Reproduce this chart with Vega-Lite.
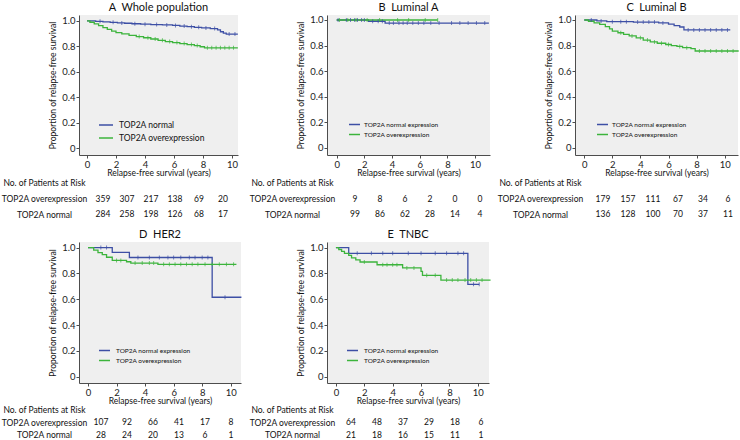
{
"$schema": "https://vega.github.io/schema/vega-lite/v6.json",
"padding": {"left": 1, "top": 1, "right": 0, "bottom": 0},
"background": "white",
"config": {
  "font": "Lato",
  "view": {"stroke": null},
  "axis": {"grid": false, "domainColor": "#4d4d4d", "tickColor": "#4d4d4d", "tickSize": 3, "labelFontSize": 9.5, "labelColor": "#222", "labelPadding": 1, "labelFlush": false, "labelOverlap": false, "titleFontSize": 8.5, "titleFontWeight": "normal", "titleColor": "#111", "labelFont": "Lato", "titleFont": "Lato"},
  "axisY": {"titleFontSize": 8.5, "titlePadding": 4},
  "axisX": {"titlePadding": 0},
  "title": {"fontSize": 11, "fontWeight": "normal", "color": "#111", "offset": 2, "frame": "group", "font": "Lato"},
  "legend": {"title": null, "orient": "none", "symbolType": "stroke", "symbolStrokeWidth": 1.5, "padding": 0, "rowPadding": 0, "labelColor": "#111", "labelFont": "Lato"},
  "text": {"color": "#111", "font": "Lato"},
  "tick": {"orient": "vertical", "size": 4, "thickness": 1}
},
"datasets": {
"km": [
{"p":"A","g":"N","t":0,"s":1},{"p":"A","g":"N","t":0.6,"s":0.997},{"p":"A","g":"N","t":1.1,"s":0.993},{"p":"A","g":"N","t":1.6,"s":0.989},{"p":"A","g":"N","t":2.1,"s":0.985},{"p":"A","g":"N","t":2.6,"s":0.982},{"p":"A","g":"N","t":3.1,"s":0.978},{"p":"A","g":"N","t":3.7,"s":0.975},{"p":"A","g":"N","t":4.4,"s":0.972},{"p":"A","g":"N","t":5.2,"s":0.969},{"p":"A","g":"N","t":5.9,"s":0.965},{"p":"A","g":"N","t":6.4,"s":0.96},{"p":"A","g":"N","t":6.9,"s":0.955},{"p":"A","g":"N","t":7.4,"s":0.95},{"p":"A","g":"N","t":7.9,"s":0.945},{"p":"A","g":"N","t":8.5,"s":0.94},{"p":"A","g":"N","t":9.0,"s":0.93},{"p":"A","g":"N","t":9.2,"s":0.915},{"p":"A","g":"N","t":9.4,"s":0.905},{"p":"A","g":"N","t":9.6,"s":0.897},{"p":"A","g":"N","t":10.4,"s":0.897},
{"p":"A","g":"O","t":0,"s":1},{"p":"A","g":"O","t":0.2,"s":0.99},{"p":"A","g":"O","t":0.5,"s":0.977},{"p":"A","g":"O","t":0.8,"s":0.963},{"p":"A","g":"O","t":1.1,"s":0.948},{"p":"A","g":"O","t":1.4,"s":0.934},{"p":"A","g":"O","t":1.7,"s":0.92},{"p":"A","g":"O","t":2.0,"s":0.908},{"p":"A","g":"O","t":2.4,"s":0.898},{"p":"A","g":"O","t":2.9,"s":0.887},{"p":"A","g":"O","t":3.4,"s":0.877},{"p":"A","g":"O","t":3.9,"s":0.868},{"p":"A","g":"O","t":4.4,"s":0.858},{"p":"A","g":"O","t":4.9,"s":0.848},{"p":"A","g":"O","t":5.4,"s":0.838},{"p":"A","g":"O","t":5.9,"s":0.83},{"p":"A","g":"O","t":6.4,"s":0.822},{"p":"A","g":"O","t":6.9,"s":0.814},{"p":"A","g":"O","t":7.4,"s":0.806},{"p":"A","g":"O","t":7.8,"s":0.797},{"p":"A","g":"O","t":8.1,"s":0.789},{"p":"A","g":"O","t":10.4,"s":0.789},
{"p":"B","g":"N","t":0,"s":1},{"p":"B","g":"N","t":2.3,"s":0.99},{"p":"B","g":"N","t":3.5,"s":0.976},{"p":"B","g":"N","t":11,"s":0.976},
{"p":"B","g":"O","t":0,"s":1},{"p":"B","g":"O","t":7.3,"s":1},
{"p":"C","g":"N","t":0,"s":1},{"p":"C","g":"N","t":0.9,"s":0.993},{"p":"C","g":"N","t":1.6,"s":0.987},{"p":"C","g":"N","t":3.5,"s":0.984},{"p":"C","g":"N","t":5.3,"s":0.977},{"p":"C","g":"N","t":6.0,"s":0.968},{"p":"C","g":"N","t":6.4,"s":0.956},{"p":"C","g":"N","t":6.8,"s":0.945},{"p":"C","g":"N","t":7.1,"s":0.922},{"p":"C","g":"N","t":10.4,"s":0.922},
{"p":"C","g":"O","t":0,"s":1},{"p":"C","g":"O","t":0.3,"s":0.99},{"p":"C","g":"O","t":0.7,"s":0.978},{"p":"C","g":"O","t":1.1,"s":0.965},{"p":"C","g":"O","t":1.5,"s":0.948},{"p":"C","g":"O","t":1.8,"s":0.93},{"p":"C","g":"O","t":2.0,"s":0.912},{"p":"C","g":"O","t":2.4,"s":0.9},{"p":"C","g":"O","t":2.8,"s":0.888},{"p":"C","g":"O","t":3.2,"s":0.875},{"p":"C","g":"O","t":3.7,"s":0.86},{"p":"C","g":"O","t":4.2,"s":0.843},{"p":"C","g":"O","t":4.7,"s":0.828},{"p":"C","g":"O","t":5.2,"s":0.818},{"p":"C","g":"O","t":5.8,"s":0.808},{"p":"C","g":"O","t":6.2,"s":0.8},{"p":"C","g":"O","t":6.6,"s":0.793},{"p":"C","g":"O","t":7.0,"s":0.783},{"p":"C","g":"O","t":7.6,"s":0.775},{"p":"C","g":"O","t":7.9,"s":0.757},{"p":"C","g":"O","t":11,"s":0.757},
{"p":"D","g":"N","t":0,"s":1},{"p":"D","g":"N","t":1.7,"s":0.962},{"p":"D","g":"N","t":2.9,"s":0.923},{"p":"D","g":"N","t":8.7,"s":0.615},{"p":"D","g":"N","t":10.75,"s":0.615},
{"p":"D","g":"O","t":0,"s":1},{"p":"D","g":"O","t":0.4,"s":0.98},{"p":"D","g":"O","t":0.7,"s":0.96},{"p":"D","g":"O","t":1.0,"s":0.945},{"p":"D","g":"O","t":1.3,"s":0.925},{"p":"D","g":"O","t":1.7,"s":0.9},{"p":"D","g":"O","t":2.7,"s":0.89},{"p":"D","g":"O","t":3.0,"s":0.88},{"p":"D","g":"O","t":4.9,"s":0.87},{"p":"D","g":"O","t":10.4,"s":0.87},
{"p":"E","g":"N","t":0,"s":1},{"p":"E","g":"N","t":0.9,"s":0.955},{"p":"E","g":"N","t":9.3,"s":0.715},{"p":"E","g":"N","t":10.1,"s":0.715},
{"p":"E","g":"O","t":0,"s":1},{"p":"E","g":"O","t":0.2,"s":0.985},{"p":"E","g":"O","t":0.4,"s":0.97},{"p":"E","g":"O","t":0.6,"s":0.955},{"p":"E","g":"O","t":0.9,"s":0.94},{"p":"E","g":"O","t":1.1,"s":0.92},{"p":"E","g":"O","t":1.4,"s":0.905},{"p":"E","g":"O","t":1.7,"s":0.888},{"p":"E","g":"O","t":2.9,"s":0.867},{"p":"E","g":"O","t":4.7,"s":0.842},{"p":"E","g":"O","t":6.0,"s":0.815},{"p":"E","g":"O","t":6.1,"s":0.785},{"p":"E","g":"O","t":7.4,"s":0.748},{"p":"E","g":"O","t":10.9,"s":0.748}
],
"cens": [
{"p":"A","g":"N","t":0.9,"s":0.997},{"p":"A","g":"N","t":1.8,"s":0.989},{"p":"A","g":"N","t":2.4,"s":0.985},{"p":"A","g":"N","t":3.3,"s":0.978},{"p":"A","g":"N","t":4.0,"s":0.975},{"p":"A","g":"N","t":4.8,"s":0.972},{"p":"A","g":"N","t":5.5,"s":0.969},{"p":"A","g":"N","t":6.1,"s":0.965},{"p":"A","g":"N","t":6.7,"s":0.96},{"p":"A","g":"N","t":7.2,"s":0.955},{"p":"A","g":"N","t":7.7,"s":0.95},{"p":"A","g":"N","t":8.2,"s":0.945},{"p":"A","g":"N","t":8.8,"s":0.94},{"p":"A","g":"N","t":9.8,"s":0.897},{"p":"A","g":"N","t":10.2,"s":0.897},
{"p":"A","g":"O","t":3.6,"s":0.877},{"p":"A","g":"O","t":4.2,"s":0.868},{"p":"A","g":"O","t":4.7,"s":0.858},{"p":"A","g":"O","t":5.2,"s":0.848},{"p":"A","g":"O","t":5.7,"s":0.838},{"p":"A","g":"O","t":6.2,"s":0.83},{"p":"A","g":"O","t":6.7,"s":0.822},{"p":"A","g":"O","t":7.2,"s":0.814},{"p":"A","g":"O","t":7.6,"s":0.806},{"p":"A","g":"O","t":8.3,"s":0.789},{"p":"A","g":"O","t":8.6,"s":0.789},{"p":"A","g":"O","t":8.9,"s":0.789},{"p":"A","g":"O","t":9.2,"s":0.789},{"p":"A","g":"O","t":9.5,"s":0.789},{"p":"A","g":"O","t":9.8,"s":0.789},{"p":"A","g":"O","t":10.1,"s":0.789},
{"p":"B","g":"N","t":0.1,"s":1},{"p":"B","g":"N","t":0.7,"s":1},{"p":"B","g":"N","t":1.0,"s":1},{"p":"B","g":"N","t":1.3,"s":1},{"p":"B","g":"N","t":1.5,"s":1},{"p":"B","g":"N","t":1.8,"s":1},{"p":"B","g":"N","t":2.0,"s":1},{"p":"B","g":"N","t":2.6,"s":0.99},{"p":"B","g":"N","t":3.0,"s":0.99},{"p":"B","g":"N","t":3.3,"s":0.99},{"p":"B","g":"N","t":3.8,"s":0.976},{"p":"B","g":"N","t":4.1,"s":0.976},{"p":"B","g":"N","t":4.5,"s":0.976},{"p":"B","g":"N","t":4.8,"s":0.976},{"p":"B","g":"N","t":5.1,"s":0.976},{"p":"B","g":"N","t":5.5,"s":0.976},{"p":"B","g":"N","t":5.9,"s":0.976},{"p":"B","g":"N","t":6.3,"s":0.976},{"p":"B","g":"N","t":6.8,"s":0.976},{"p":"B","g":"N","t":7.4,"s":0.976},{"p":"B","g":"N","t":8.3,"s":0.976},{"p":"B","g":"N","t":8.9,"s":0.976},{"p":"B","g":"N","t":9.5,"s":0.976},{"p":"B","g":"N","t":10.1,"s":0.976},{"p":"B","g":"N","t":10.7,"s":0.976},
{"p":"B","g":"O","t":0.2,"s":1},{"p":"B","g":"O","t":0.8,"s":1},{"p":"B","g":"O","t":1.4,"s":1},{"p":"B","g":"O","t":2.2,"s":1},{"p":"B","g":"O","t":3.1,"s":1},{"p":"B","g":"O","t":4.4,"s":1},{"p":"B","g":"O","t":5.2,"s":1},{"p":"B","g":"O","t":6.4,"s":1},{"p":"B","g":"O","t":7.3,"s":1},
{"p":"C","g":"N","t":0.5,"s":1},{"p":"C","g":"N","t":1.2,"s":0.993},{"p":"C","g":"N","t":2.0,"s":0.987},{"p":"C","g":"N","t":2.6,"s":0.987},{"p":"C","g":"N","t":3.0,"s":0.987},{"p":"C","g":"N","t":3.8,"s":0.984},{"p":"C","g":"N","t":4.2,"s":0.984},{"p":"C","g":"N","t":4.6,"s":0.984},{"p":"C","g":"N","t":5.0,"s":0.984},{"p":"C","g":"N","t":5.6,"s":0.977},{"p":"C","g":"N","t":7.4,"s":0.922},{"p":"C","g":"N","t":7.8,"s":0.922},{"p":"C","g":"N","t":8.2,"s":0.922},{"p":"C","g":"N","t":8.6,"s":0.922},{"p":"C","g":"N","t":9.0,"s":0.922},{"p":"C","g":"N","t":9.4,"s":0.922},{"p":"C","g":"N","t":9.8,"s":0.922},{"p":"C","g":"N","t":10.2,"s":0.922},
{"p":"C","g":"O","t":2.6,"s":0.9},{"p":"C","g":"O","t":3.4,"s":0.875},{"p":"C","g":"O","t":4.0,"s":0.86},{"p":"C","g":"O","t":4.5,"s":0.843},{"p":"C","g":"O","t":5.0,"s":0.828},{"p":"C","g":"O","t":5.5,"s":0.818},{"p":"C","g":"O","t":6.0,"s":0.808},{"p":"C","g":"O","t":6.8,"s":0.793},{"p":"C","g":"O","t":7.3,"s":0.783},{"p":"C","g":"O","t":8.2,"s":0.757},{"p":"C","g":"O","t":8.6,"s":0.757},{"p":"C","g":"O","t":9.0,"s":0.757},{"p":"C","g":"O","t":9.4,"s":0.757},{"p":"C","g":"O","t":9.8,"s":0.757},{"p":"C","g":"O","t":10.2,"s":0.757},{"p":"C","g":"O","t":10.6,"s":0.757},
{"p":"D","g":"N","t":0.9,"s":1},{"p":"D","g":"N","t":1.3,"s":1},{"p":"D","g":"N","t":3.5,"s":0.923},{"p":"D","g":"N","t":4.3,"s":0.923},{"p":"D","g":"N","t":5.0,"s":0.923},{"p":"D","g":"N","t":5.6,"s":0.923},{"p":"D","g":"N","t":6.0,"s":0.923},{"p":"D","g":"N","t":6.5,"s":0.923},{"p":"D","g":"N","t":7.1,"s":0.923},{"p":"D","g":"N","t":7.5,"s":0.923},{"p":"D","g":"N","t":8.0,"s":0.923},{"p":"D","g":"N","t":8.4,"s":0.923},{"p":"D","g":"N","t":9.6,"s":0.615},
{"p":"D","g":"O","t":2.0,"s":0.9},{"p":"D","g":"O","t":2.3,"s":0.9},{"p":"D","g":"O","t":3.3,"s":0.88},{"p":"D","g":"O","t":3.8,"s":0.88},{"p":"D","g":"O","t":4.3,"s":0.88},{"p":"D","g":"O","t":4.6,"s":0.88},{"p":"D","g":"O","t":5.3,"s":0.87},{"p":"D","g":"O","t":5.7,"s":0.87},{"p":"D","g":"O","t":6.1,"s":0.87},{"p":"D","g":"O","t":6.5,"s":0.87},{"p":"D","g":"O","t":6.9,"s":0.87},{"p":"D","g":"O","t":7.3,"s":0.87},{"p":"D","g":"O","t":7.7,"s":0.87},{"p":"D","g":"O","t":8.2,"s":0.87},{"p":"D","g":"O","t":8.7,"s":0.87},{"p":"D","g":"O","t":9.2,"s":0.87},{"p":"D","g":"O","t":9.7,"s":0.87},{"p":"D","g":"O","t":10.2,"s":0.87},
{"p":"E","g":"N","t":1.5,"s":0.955},{"p":"E","g":"N","t":2.5,"s":0.955},{"p":"E","g":"N","t":3.3,"s":0.955},{"p":"E","g":"N","t":4.0,"s":0.955},{"p":"E","g":"N","t":5.1,"s":0.955},{"p":"E","g":"N","t":6.0,"s":0.955},{"p":"E","g":"N","t":7.0,"s":0.955},{"p":"E","g":"N","t":7.8,"s":0.955},{"p":"E","g":"N","t":8.6,"s":0.955},{"p":"E","g":"N","t":9.0,"s":0.955},{"p":"E","g":"N","t":9.7,"s":0.715},{"p":"E","g":"N","t":10.1,"s":0.715},
{"p":"E","g":"O","t":2.0,"s":0.888},{"p":"E","g":"O","t":3.3,"s":0.867},{"p":"E","g":"O","t":3.6,"s":0.867},{"p":"E","g":"O","t":4.0,"s":0.867},{"p":"E","g":"O","t":4.3,"s":0.867},{"p":"E","g":"O","t":5.0,"s":0.842},{"p":"E","g":"O","t":5.5,"s":0.842},{"p":"E","g":"O","t":6.4,"s":0.785},{"p":"E","g":"O","t":7.0,"s":0.785},{"p":"E","g":"O","t":7.8,"s":0.748},{"p":"E","g":"O","t":8.2,"s":0.748},{"p":"E","g":"O","t":8.6,"s":0.748},{"p":"E","g":"O","t":9.1,"s":0.748},{"p":"E","g":"O","t":9.5,"s":0.748},{"p":"E","g":"O","t":9.9,"s":0.748},{"p":"E","g":"O","t":10.3,"s":0.748}
],
"risk": [
{"p":"A","r":"TOP2A overexpression","t":0,"n":359},{"p":"A","r":"TOP2A overexpression","t":2,"n":307},{"p":"A","r":"TOP2A overexpression","t":4,"n":217},{"p":"A","r":"TOP2A overexpression","t":6,"n":138},{"p":"A","r":"TOP2A overexpression","t":8,"n":69},{"p":"A","r":"TOP2A overexpression","t":10,"n":20},
{"p":"A","r":"TOP2A normal","t":0,"n":284},{"p":"A","r":"TOP2A normal","t":2,"n":258},{"p":"A","r":"TOP2A normal","t":4,"n":198},{"p":"A","r":"TOP2A normal","t":6,"n":126},{"p":"A","r":"TOP2A normal","t":8,"n":68},{"p":"A","r":"TOP2A normal","t":10,"n":17},
{"p":"B","r":"TOP2A overexpression","t":0,"n":9},{"p":"B","r":"TOP2A overexpression","t":2,"n":8},{"p":"B","r":"TOP2A overexpression","t":4,"n":6},{"p":"B","r":"TOP2A overexpression","t":6,"n":2},{"p":"B","r":"TOP2A overexpression","t":8,"n":0},{"p":"B","r":"TOP2A overexpression","t":10,"n":0},
{"p":"B","r":"TOP2A normal","t":0,"n":99},{"p":"B","r":"TOP2A normal","t":2,"n":86},{"p":"B","r":"TOP2A normal","t":4,"n":62},{"p":"B","r":"TOP2A normal","t":6,"n":28},{"p":"B","r":"TOP2A normal","t":8,"n":14},{"p":"B","r":"TOP2A normal","t":10,"n":4},
{"p":"C","r":"TOP2A overexpression","t":0,"n":179},{"p":"C","r":"TOP2A overexpression","t":2,"n":157},{"p":"C","r":"TOP2A overexpression","t":4,"n":111},{"p":"C","r":"TOP2A overexpression","t":6,"n":67},{"p":"C","r":"TOP2A overexpression","t":8,"n":34},{"p":"C","r":"TOP2A overexpression","t":10,"n":6},
{"p":"C","r":"TOP2A normal","t":0,"n":136},{"p":"C","r":"TOP2A normal","t":2,"n":128},{"p":"C","r":"TOP2A normal","t":4,"n":100},{"p":"C","r":"TOP2A normal","t":6,"n":70},{"p":"C","r":"TOP2A normal","t":8,"n":37},{"p":"C","r":"TOP2A normal","t":10,"n":11},
{"p":"D","r":"TOP2A overexpression","t":0,"n":107},{"p":"D","r":"TOP2A overexpression","t":2,"n":92},{"p":"D","r":"TOP2A overexpression","t":4,"n":66},{"p":"D","r":"TOP2A overexpression","t":6,"n":41},{"p":"D","r":"TOP2A overexpression","t":8,"n":17},{"p":"D","r":"TOP2A overexpression","t":10,"n":8},
{"p":"D","r":"TOP2A normal","t":0,"n":28},{"p":"D","r":"TOP2A normal","t":2,"n":24},{"p":"D","r":"TOP2A normal","t":4,"n":20},{"p":"D","r":"TOP2A normal","t":6,"n":13},{"p":"D","r":"TOP2A normal","t":8,"n":6},{"p":"D","r":"TOP2A normal","t":10,"n":1},
{"p":"E","r":"TOP2A overexpression","t":0,"n":64},{"p":"E","r":"TOP2A overexpression","t":2,"n":48},{"p":"E","r":"TOP2A overexpression","t":4,"n":37},{"p":"E","r":"TOP2A overexpression","t":6,"n":29},{"p":"E","r":"TOP2A overexpression","t":8,"n":18},{"p":"E","r":"TOP2A overexpression","t":10,"n":6},
{"p":"E","r":"TOP2A normal","t":0,"n":21},{"p":"E","r":"TOP2A normal","t":2,"n":18},{"p":"E","r":"TOP2A normal","t":4,"n":16},{"p":"E","r":"TOP2A normal","t":6,"n":15},{"p":"E","r":"TOP2A normal","t":8,"n":11},{"p":"E","r":"TOP2A normal","t":10,"n":1}
]
},
"columns": 3,
"bounds": "flush",
"spacing": {"row": 20, "column": 80},
"resolve": {"scale": {"color": "independent"}, "legend": {"color": "independent"}},
"concat": [
{
 "width": 159, "height": 140,
 "title": {"text": "A\u00a0\u00a0Whole population"},
 "view": {"fill": "#efefef", "stroke": null},
 "encoding": {
  "x": {"field": "t", "type": "quantitative", "scale": {"domain": [-0.55, 10.41], "nice": false, "zero": false}, "axis": {"values": [0,2,4,6,8,10], "format": "d", "labelOverlap": false, "title": "Relapse-free survival (years)"}},
  "y": {"field": "s", "type": "quantitative", "scale": {"domain": [-0.055, 1.047], "nice": false, "zero": false}, "axis": {"values": [0,0.2,0.4,0.6,0.8,1], "labelOverlap": false, "labelExpr": "datum.value == 0 ? '0' : format(datum.value, '.1f')", "title": "Proportion of relapse-free survival"}}
 },
 "layer": [
  {"data": {"name": "km"}, "transform": [{"filter": "datum.p == 'A'"}],
   "mark": {"type": "line", "interpolate": "step-after", "strokeWidth": 1.3},
   "encoding": {"color": {"field": "g", "type": "nominal", "scale": {"domain": ["N","O"], "range": ["#3d4fa5","#3cb43c"]}, "legend": {"legendX": 19, "legendY": 102, "symbolSize": 196, "labelFontSize": 8.5, "labelOffset": 5, "labelExpr": "datum.value == 'N' ? 'TOP2A normal' : 'TOP2A overexpression'"}}}},
  {"data": {"name": "cens"}, "transform": [{"filter": "datum.p == 'A'"}],
   "mark": {"type": "tick"},
   "encoding": {"color": {"field": "g", "type": "nominal", "legend": null}}},
  {"data": {"values": [{"txt": "P value < 0.001"}]},
   "mark": {"type": "text", "fontSize": 8.5},
   "encoding": {"x": {"datum": 4.7}, "y": {"datum": 0.335}, "text": {"field": "txt"}}}
 ]
},
{
 "width": 163, "height": 140,
 "title": {"text": "B\u00a0\u00a0Luminal A"},
 "view": {"fill": "#efefef", "stroke": null},
 "encoding": {
  "x": {"field": "t", "type": "quantitative", "scale": {"domain": [-0.70, 11.08], "nice": false, "zero": false}, "axis": {"values": [0,2,4,6,8,10], "format": "d", "labelOverlap": false, "title": "Relapse-free survival (years)"}},
  "y": {"field": "s", "type": "quantitative", "scale": {"domain": [-0.057, 1.039], "nice": false, "zero": false}, "axis": {"values": [0,0.2,0.4,0.6,0.8,1], "labelOverlap": false, "labelExpr": "datum.value == 0 ? '0' : format(datum.value, '.1f')", "title": "Proportion of relapse-free survival"}}
 },
 "layer": [
  {"data": {"name": "km"}, "transform": [{"filter": "datum.p == 'B'"}],
   "mark": {"type": "line", "interpolate": "step-after", "strokeWidth": 1.3},
   "encoding": {"color": {"field": "g", "type": "nominal", "scale": {"domain": ["N","O"], "range": ["#3d4fa5","#3cb43c"]}, "legend": {"legendX": 21, "legendY": 103, "symbolSize": 121, "labelFontSize": 6.5, "labelOffset": 3, "labelExpr": "datum.value == 'N' ? 'TOP2A normal expression' : 'TOP2A overexpression'"}}}},
  {"data": {"name": "cens"}, "transform": [{"filter": "datum.p == 'B'"}],
   "mark": {"type": "tick"},
   "encoding": {"color": {"field": "g", "type": "nominal", "legend": null}}},
  {"data": {"values": [{"txt": "P value = 0.70"}]},
   "mark": {"type": "text", "fontSize": 8.5},
   "encoding": {"x": {"datum": 4.87}, "y": {"datum": 0.332}, "text": {"field": "txt"}}}
 ]
},
{
 "width": 163, "height": 140,
 "title": {"text": "C\u00a0\u00a0Luminal B"},
 "view": {"fill": "#efefef", "stroke": null},
 "encoding": {
  "x": {"field": "t", "type": "quantitative", "scale": {"domain": [-0.66, 10.95], "nice": false, "zero": false}, "axis": {"values": [0,2,4,6,8,10], "format": "d", "labelOverlap": false, "title": "Relapse-free survival (years)"}},
  "y": {"field": "s", "type": "quantitative", "scale": {"domain": [-0.057, 1.039], "nice": false, "zero": false}, "axis": {"values": [0,0.2,0.4,0.6,0.8,1], "labelOverlap": false, "labelExpr": "datum.value == 0 ? '0' : format(datum.value, '.1f')", "title": "Proportion of relapse-free survival"}}
 },
 "layer": [
  {"data": {"name": "km"}, "transform": [{"filter": "datum.p == 'C'"}],
   "mark": {"type": "line", "interpolate": "step-after", "strokeWidth": 1.3},
   "encoding": {"color": {"field": "g", "type": "nominal", "scale": {"domain": ["N","O"], "range": ["#3d4fa5","#3cb43c"]}, "legend": {"legendX": 21, "legendY": 103, "symbolSize": 121, "labelFontSize": 6.5, "labelOffset": 3, "labelExpr": "datum.value == 'N' ? 'TOP2A normal expression' : 'TOP2A overexpression'"}}}},
  {"data": {"name": "cens"}, "transform": [{"filter": "datum.p == 'C'"}],
   "mark": {"type": "tick"},
   "encoding": {"color": {"field": "g", "type": "nominal", "legend": null}}},
  {"data": {"values": [{"txt": "P value < 0.001"}]},
   "mark": {"type": "text", "fontSize": 8.5},
   "encoding": {"x": {"datum": 4.68}, "y": {"datum": 0.335}, "text": {"field": "txt"}}}
 ]
},
{
 "width": 168, "height": 47,
 "data": {"name": "risk"}, "transform": [{"filter": "datum.p == 'A'"}],
 "mark": {"type": "text", "fontSize": 8.5},
 "encoding": {
  "x": {"field": "t", "type": "quantitative", "scale": {"domain": [-2, 12], "nice": false, "zero": false}, "axis": null},
  "y": {"field": "r", "type": "nominal", "scale": {"domain": ["No. of Patients at Risk", "TOP2A overexpression", "TOP2A normal"], "paddingInner": 0, "paddingOuter": 0}, "axis": {"title": null, "domain": false, "ticks": false, "tickSize": 0, "labelAlign": "center", "labelPadding": 35, "labelFontSize": 8.5, "labelColor": "#111"}},
  "text": {"field": "n", "type": "quantitative"}
 }
},
{
 "width": 168, "height": 47,
 "data": {"name": "risk"}, "transform": [{"filter": "datum.p == 'B'"}],
 "mark": {"type": "text", "fontSize": 8.5},
 "encoding": {
  "x": {"field": "t", "type": "quantitative", "scale": {"domain": [-2.24, 11.2], "nice": false, "zero": false}, "axis": null},
  "y": {"field": "r", "type": "nominal", "scale": {"domain": ["No. of Patients at Risk", "TOP2A overexpression", "TOP2A normal"], "paddingInner": 0, "paddingOuter": 0}, "axis": {"title": null, "domain": false, "ticks": false, "tickSize": 0, "labelAlign": "center", "labelPadding": 35, "labelFontSize": 8.5, "labelColor": "#111"}},
  "text": {"field": "n", "type": "quantitative"}
 }
},
{
 "width": 168, "height": 47,
 "data": {"name": "risk"}, "transform": [{"filter": "datum.p == 'C'"}],
 "mark": {"type": "text", "fontSize": 8.5},
 "encoding": {
  "x": {"field": "t", "type": "quantitative", "scale": {"domain": [-2.24, 11.2], "nice": false, "zero": false}, "axis": null},
  "y": {"field": "r", "type": "nominal", "scale": {"domain": ["No. of Patients at Risk", "TOP2A overexpression", "TOP2A normal"], "paddingInner": 0, "paddingOuter": 0}, "axis": {"title": null, "domain": false, "ticks": false, "tickSize": 0, "labelAlign": "center", "labelPadding": 35, "labelFontSize": 8.5, "labelColor": "#111"}},
  "text": {"field": "n", "type": "quantitative"}
 }
},
{
 "width": 162, "height": 141,
 "title": {"text": "D\u00a0\u00a0HER2"},
 "view": {"fill": "#efefef", "stroke": null},
 "encoding": {
  "x": {"field": "t", "type": "quantitative", "scale": {"domain": [-0.63, 10.72], "nice": false, "zero": false}, "axis": {"values": [0,2,4,6,8,10], "format": "d", "labelOverlap": false, "title": "Relapse-free survival (years)"}},
  "y": {"field": "s", "type": "quantitative", "scale": {"domain": [-0.049, 1.043], "nice": false, "zero": false}, "axis": {"values": [0,0.2,0.4,0.6,0.8,1], "labelOverlap": false, "labelExpr": "datum.value == 0 ? '0' : format(datum.value, '.1f')", "title": "Proportion of relapse-free survival"}}
 },
 "layer": [
  {"data": {"name": "km"}, "transform": [{"filter": "datum.p == 'D'"}],
   "mark": {"type": "line", "interpolate": "step-after", "strokeWidth": 1.3},
   "encoding": {"color": {"field": "g", "type": "nominal", "scale": {"domain": ["N","O"], "range": ["#3d4fa5","#3cb43c"]}, "legend": {"legendX": 19, "legendY": 102, "symbolSize": 121, "labelFontSize": 6.5, "labelOffset": 5, "labelExpr": "datum.value == 'N' ? 'TOP2A normal expression' : 'TOP2A overexpression'"}}}},
  {"data": {"name": "cens"}, "transform": [{"filter": "datum.p == 'D'"}],
   "mark": {"type": "tick"},
   "encoding": {"color": {"field": "g", "type": "nominal", "legend": null}}},
  {"data": {"values": [{"txt": "P value = 0.80"}]},
   "mark": {"type": "text", "fontSize": 8.5},
   "encoding": {"x": {"datum": 4.77}, "y": {"datum": 0.336}, "text": {"field": "txt"}}}
 ]
},
{
 "width": 162, "height": 141,
 "title": {"text": "E\u00a0\u00a0TNBC"},
 "view": {"fill": "#efefef", "stroke": null},
 "encoding": {
  "x": {"field": "t", "type": "quantitative", "scale": {"domain": [-0.63, 10.79], "nice": false, "zero": false}, "axis": {"values": [0,2,4,6,8,10], "format": "d", "labelOverlap": false, "title": "Relapse-free survival (years)"}},
  "y": {"field": "s", "type": "quantitative", "scale": {"domain": [-0.049, 1.043], "nice": false, "zero": false}, "axis": {"values": [0,0.2,0.4,0.6,0.8,1], "labelOverlap": false, "labelExpr": "datum.value == 0 ? '0' : format(datum.value, '.1f')", "title": "Proportion of relapse-free survival"}}
 },
 "layer": [
  {"data": {"name": "km"}, "transform": [{"filter": "datum.p == 'E'"}],
   "mark": {"type": "line", "interpolate": "step-after", "strokeWidth": 1.3},
   "encoding": {"color": {"field": "g", "type": "nominal", "scale": {"domain": ["N","O"], "range": ["#3d4fa5","#3cb43c"]}, "legend": {"legendX": 19, "legendY": 102, "symbolSize": 121, "labelFontSize": 6.5, "labelOffset": 5, "labelExpr": "datum.value == 'N' ? 'TOP2A normal expression' : 'TOP2A overexpression'"}}}},
  {"data": {"name": "cens"}, "transform": [{"filter": "datum.p == 'E'"}],
   "mark": {"type": "tick"},
   "encoding": {"color": {"field": "g", "type": "nominal", "legend": null}}},
  {"data": {"values": [{"txt": "P value = 0.24"}]},
   "mark": {"type": "text", "fontSize": 8.5},
   "encoding": {"x": {"datum": 4.77}, "y": {"datum": 0.336}, "text": {"field": "txt"}}}
 ]
},
{
 "width": 1, "height": 1,
 "data": {"values": []},
 "mark": {"type": "text"},
 "encoding": {}
},
{
 "width": 168, "height": 38,
 "data": {"name": "risk"}, "transform": [{"filter": "datum.p == 'D'"}],
 "mark": {"type": "text", "fontSize": 8.5},
 "encoding": {
  "x": {"field": "t", "type": "quantitative", "scale": {"domain": [-1.692, 11.231], "nice": false, "zero": false}, "axis": null},
  "y": {"field": "r", "type": "nominal", "scale": {"domain": ["No. of Patients at Risk", "TOP2A overexpression", "TOP2A normal"], "paddingInner": 0, "paddingOuter": 0}, "axis": {"title": null, "domain": false, "ticks": false, "tickSize": 0, "labelAlign": "center", "labelPadding": 35, "labelFontSize": 8.5, "labelColor": "#111"}},
  "text": {"field": "n", "type": "quantitative"}
 }
},
{
 "width": 168, "height": 38,
 "data": {"name": "risk"}, "transform": [{"filter": "datum.p == 'E'"}],
 "mark": {"type": "text", "fontSize": 8.5},
 "encoding": {
  "x": {"field": "t", "type": "quantitative", "scale": {"domain": [-1.846, 11.077], "nice": false, "zero": false}, "axis": null},
  "y": {"field": "r", "type": "nominal", "scale": {"domain": ["No. of Patients at Risk", "TOP2A overexpression", "TOP2A normal"], "paddingInner": 0, "paddingOuter": 0}, "axis": {"title": null, "domain": false, "ticks": false, "tickSize": 0, "labelAlign": "center", "labelPadding": 35, "labelFontSize": 8.5, "labelColor": "#111"}},
  "text": {"field": "n", "type": "quantitative"}
 }
}
]
}
